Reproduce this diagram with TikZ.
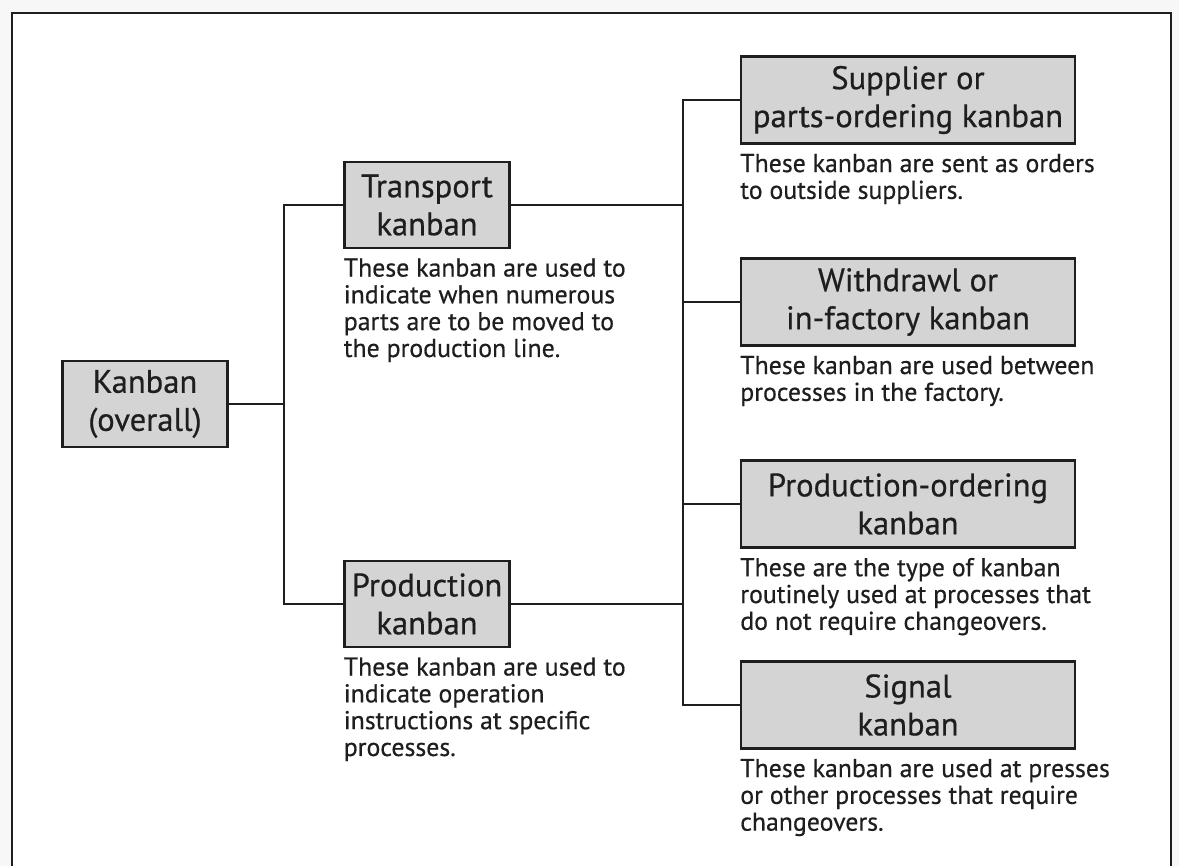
\documentclass[tikz,border=0pt]{standalone}
\usepackage{fontspec}
\setmainfont{PT Sans}[FakeBold=0.5]
\usepackage{tikz}
\usetikzlibrary{positioning}

\definecolor{boxgray}{HTML}{D4D4D4}
\definecolor{inkgray}{HTML}{1E1E1E}

\tikzset{
  kbox/.style={draw=inkgray,line width=1.1pt,fill=boxgray,inner sep=0pt,
    align=center,font=\fontsize{16.3}{19}\selectfont,text=inkgray},
  leftbox/.style={kbox,minimum width=82.5pt,minimum height=43pt},
  rightbox/.style={kbox,minimum width=167pt,minimum height=43.5pt},
  desc/.style={anchor=north west,inner xsep=0pt,inner ysep=4.5pt,align=left,
    font=\fontsize{12.9}{13.4}\selectfont,text=inkgray},
  link/.style={draw=inkgray,line width=1pt}
}

\begin{document}
\begin{tikzpicture}[x=0.5pt,y=-0.5pt]
          \useasboundingbox (0,0) rectangle (1179,866);
          \fill[white!97!black] (0,0) rectangle (1179,866);
          \fill[white] (12,13) rectangle (1171,866);
          \draw[inkgray,line width=1pt] (12,866) -- (12,13) -- (1171,13) -- (1171,866);
          % boxes
          \node[leftbox] (overall) at (145,404) {Kanban\\(overall)};
          \node[leftbox] (transport) at (427,205) {Transport\\kanban};
          \node[leftbox] (production) at (427,604) {Production\\kanban};
          \node[rightbox] (supplier) at (908,100) {Supplier or\\parts-ordering kanban};
          \node[rightbox] (withdrawl) at (908,302) {Withdrawl or\\in-factory kanban};
          \node[rightbox] (prodorder) at (908,504) {Production-ordering\\kanban};
          \node[rightbox] (signal) at (908,705) {Signal\\kanban};
          % descriptions
          \node[desc] (transportdesc) at (transport.south west)
          {These kanban are used to\\indicate when numerous\\parts are to be moved to\\the production line.};
          \node[desc] (productiondesc) at (production.south west)
          {These kanban are used to\\indicate operation\\instructions at specific\\processes.};
          \node[desc] (supplierdesc) at (supplier.south west)
          {These kanban are sent as orders\\to outside suppliers.};
          \node[desc] (withdrawldesc) at (withdrawl.south west)
          {These kanban are used between\\processes in the factory.};
          \node[desc] (prodorderdesc) at (prodorder.south west)
          {These are the type of kanban\\routinely used at processes that\\do not require changeovers.};
          \node[desc] (signaldesc) at (signal.south west)
          {These kanban are used at presses\\or other processes that require\\changeovers.};
          % connectors
          \coordinate (lsplit) at (284,404);
          \coordinate (rsplit) at (683,404);
          \draw[link] (overall.east) -- (lsplit);
          \draw[link] (transport.west) -| (lsplit) |- (production.west);
          \draw[link] (supplier.west) -| (rsplit) |- (signal.west);
          \draw[link] (transport.east) -- (transport.east -| rsplit);
          \draw[link] (production.east) -- (production.east -| rsplit);
          \draw[link] (withdrawl.west) -- (withdrawl.west -| rsplit);
          \draw[link] (prodorder.west) -- (prodorder.west -| rsplit);
        \end{tikzpicture}
\end{document}
